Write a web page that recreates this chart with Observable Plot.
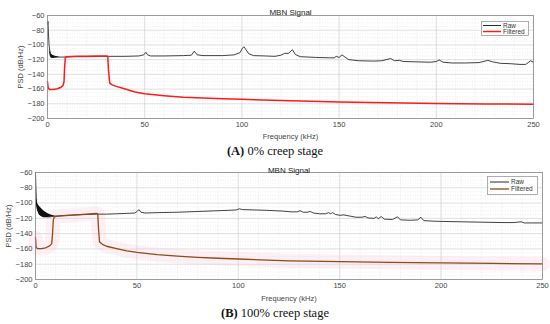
<!DOCTYPE html>
<html><head><meta charset="utf-8">
<script src="https://cdn.jsdelivr.net/npm/d3@7"></script>
<script src="https://cdn.jsdelivr.net/npm/@observablehq/plot@0.6"></script>
<style>
html,body{margin:0;padding:0;background:#fff}
body{width:550px;height:324px;overflow:hidden;font-family:"Liberation Sans",Arial,sans-serif}
.panel{position:relative;width:550px;height:162px}
.panel > svg{display:block}
.caption{position:absolute;left:0;top:140px;width:550px;height:22px;line-height:22px;text-align:center;font-family:"Liberation Serif","DejaVu Serif",serif;font-size:12.5px;color:#111}
.legend{position:absolute}
</style></head><body>
<div id="A" class="panel"></div>
<div id="B" class="panel"></div>
<script>
// ---- axes ----
const xTicks = [0, 50, 100, 150, 200, 250];
const yTicks = [-200, -180, -160, -140, -120, -100, -80, -60];
const xMinor = [10,20,30,40,60,70,80,90,110,120,130,140,160,170,180,190,210,220,230,240];
const yMinor = [-195,-190,-185,-175,-170,-165,-155,-150,-145,-135,-130,-125,-115,-110,-105,-95,-90,-85,-75,-70,-65];
const seriesNames = ["Raw", "Filtered"];
const titleText = "MBN Signal";
const xLabel = "Frequency (kHz)";
const yLabel = "PSD (dB/Hz)";

// ---- (A) 0% creep stage ----
const rawA_f  = [0,0.25,0.5,0.8,1.2,1.6,2,3,5,8,12,20,30,40,47,49.5,50.6,51.5,53,60,70,74,75.5,77,80,90,96,99,100.3,101,102,103.5,106,112,117,120,122,124,126,127.5,130,138,145,147.5,148.5,150,151.5,153,155,160,168,172,176.5,178.5,181,183,190,197,200,201.5,203.5,208,215,222,226.5,229,233,238,243,246,248.5,250];
const rawA_db = [-72,-68,-85,-100,-108,-112,-114,-115.5,-116.5,-116.5,-116,-116,-115.5,-115.5,-115,-113.5,-110,-113.5,-115,-115,-114.5,-114,-108.5,-113.5,-114.5,-114.5,-113.5,-110.5,-104.5,-102.5,-106,-112,-114.5,-115,-115.5,-114,-111.5,-111.5,-106.5,-113,-116,-117,-117.5,-117.5,-115.5,-117,-113.5,-116.5,-120,-121.5,-122,-121.5,-118.5,-121.5,-121,-122.5,-123,-123.5,-122.5,-120.5,-123.5,-124.5,-124.5,-124,-121,-123,-125,-125.5,-126.5,-126.5,-121.5,-123.5];
const bandA_f  = [1.0, 1.5, 2, 3, 4, 5, 6];
const bandA_hi = [-106, -111, -113, -114.5, -115.5, -116, -116.5];
const bandA_lo = [-110, -116, -118, -118.5, -118, -117.5, -117];
const filtA_f  = [0,0.3,1,3,5,7,8,8.5,8.8,9.2,10,15,20,25,28,30.5,31,31.4,32,33,35,40,45,50,60,70,80,90,100,125,150,175,200,225,250];
const filtA_db = [-150,-158,-160.5,-160.5,-159.5,-157.5,-155,-150,-130,-117,-116,-115.5,-115.5,-115,-115,-115,-116,-135,-152,-154,-156,-160,-164,-166.5,-169,-171,-172.3,-173.2,-174,-176,-177.5,-178.7,-179.6,-180.2,-180.6];

// ---- (B) 100% creep stage ----
const rawB_f  = [0,0.2,0.4,0.6,1,2,4,7,10,15,20,25,30,35,40,45,49,50.3,51,52,54,60,70,80,90,95,99,100.5,102,108,114,118,122,126,129,130.5,132,134,135.5,137,140,143,144.5,145.5,146.5,148,150,152,155,158,161,162.5,164,167,168,169,170.5,172,176,178.5,180,185,188.5,190,191.5,195,200,210,220,230,236,239.5,241,245,250];
const rawB_db = [-60,-80,-93,-100,-108,-115,-118,-118,-117,-116,-115.5,-115,-114.5,-114.5,-114,-113.5,-113,-110.5,-108.5,-112,-113,-112.5,-112,-111,-110,-109.5,-109,-107.5,-108.5,-109,-109.5,-110,-110.5,-111.5,-111.5,-110,-112,-112,-111,-113,-114,-114,-112.5,-114,-112.5,-115,-116,-115.5,-117,-118.5,-118.5,-117.5,-119.5,-120,-118,-120.5,-117.5,-121,-121.5,-118,-122,-122.5,-122,-118.5,-123,-123.5,-124,-124.5,-125,-125.5,-125.5,-124.5,-126,-126,-126];
const bandB_f  = [0.5, 1, 2, 3, 4, 5, 6, 7, 8, 9, 10];
const bandB_hi = [-95, -101, -104.5, -107.5, -110, -112, -113.5, -115, -116, -116.5, -116.8];
const bandB_lo = [-103, -110, -116, -118, -119, -119, -119, -118.5, -118, -117.5, -117];
const filtB_f  = [0,0.3,1,3,5,7,8,8.4,8.8,9.3,10,15,20,25,30,30.7,31.1,31.6,33,35,40,45,50,60,70,80,90,100,125,150,175,200,225,250];
const filtB_db = [-145,-158,-159.5,-159.5,-158.5,-156,-153,-140,-122,-118,-117.5,-116.5,-115.5,-114.5,-113.5,-114,-135,-151,-154,-156.5,-159.5,-162.5,-164.5,-167.5,-169.5,-171,-172.2,-173.2,-175.5,-176.6,-177.5,-178.3,-179,-179.6];

const rows = (fs, ds) => fs.map((f, i) => ({f, db: ds[i]}));
const bandRows = (fs, hi, lo) => fs.map((f, i) => ({f, hi: hi[i], lo: lo[i]}));

function chart(p) {
  const raw = rows(p.rawF, p.rawDb);
  const filt = rows(p.filtF, p.filtDb);
  const band = bandRows(p.bandF, p.bandHi, p.bandLo);
  return Plot.plot({
    width: 550, height: 140,
    marginTop: p.mt, marginBottom: p.mb, marginLeft: p.ml, marginRight: p.mr,
    style: {fontFamily: "Liberation Sans, Arial, sans-serif", fontSize: "7.5px", color: "#444", background: "#fff", overflow: "visible"},
    x: {domain: [0, 250]},
    y: {domain: [-200, -60]},
    marks: [
      p.pink ? Plot.line(filt, {x: "f", y: "db", stroke: "#fef0f5", strokeWidth: 14}) : null,
      Plot.ruleX(xMinor, {stroke: "#e2e2e2", strokeDasharray: "1,1.5", strokeWidth: 0.6}),
      Plot.ruleY(yMinor, {stroke: "#e2e2e2", strokeDasharray: "1,1.5", strokeWidth: 0.6}),
      Plot.gridX(xTicks, {stroke: "#d0d0d0", strokeOpacity: 1, strokeWidth: 0.7}),
      Plot.gridY(yTicks, {stroke: "#d0d0d0", strokeOpacity: 1, strokeWidth: 0.7}),
      Plot.areaY(band, {x: "f", y1: "lo", y2: "hi", fill: "#111"}),
      Plot.line(raw, {x: "f", y: "db", stroke: "#111", strokeWidth: 0.8}),
      Plot.line(filt, {x: "f", y: "db", stroke: p.color, strokeWidth: p.fw}),
      Plot.frame({stroke: "#8a8a8a", strokeWidth: 0.8}),
      Plot.axisX(xTicks, {tickSize: 0, tickPadding: 3, label: xLabel, labelAnchor: "center", labelOffset: p.xlo, labelArrow: "none"}),
      Plot.axisY(yTicks, {tickSize: 0, tickPadding: 3, label: yLabel, labelAnchor: "center", labelOffset: 30, labelArrow: "none"}),
      Plot.text([titleText], {text: d => d, frameAnchor: "top", dy: -p.tdy, fontSize: 8, fill: "#222"})
    ]
  });
}

function legend(box, colors, widths) {
  const ns = "http://www.w3.org/2000/svg";
  const svg = document.createElementNS(ns, "svg");
  svg.setAttribute("class", "legend");
  svg.setAttribute("width", box.w);
  svg.setAttribute("height", box.h);
  Object.assign(svg.style, {left: box.x + "px", top: box.y + "px"});
  const r = document.createElementNS(ns, "rect");
  r.setAttribute("x", 0.5); r.setAttribute("y", 0.5);
  r.setAttribute("width", box.w - 1); r.setAttribute("height", box.h - 1);
  r.setAttribute("fill", "#fff"); r.setAttribute("stroke", "#9a9a9a"); r.setAttribute("stroke-width", 0.8);
  svg.append(r);
  seriesNames.forEach((name, i) => {
    const ln = document.createElementNS(ns, "line");
    ln.setAttribute("x1", box.lx); ln.setAttribute("x2", box.lx + box.lw);
    ln.setAttribute("y1", box.rows[i]); ln.setAttribute("y2", box.rows[i]);
    ln.setAttribute("stroke", colors[i]); ln.setAttribute("stroke-width", widths[i]);
    const t = document.createElementNS(ns, "text");
    t.setAttribute("x", box.lx + box.lw + 2);
    t.setAttribute("y", box.rows[i]);
    t.setAttribute("dy", "0.35em");
    t.setAttribute("font-size", 6.5);
    t.setAttribute("font-family", "Liberation Sans, Arial, sans-serif");
    t.setAttribute("fill", "#333");
    t.textContent = name;
    svg.append(ln, t);
  });
  return svg;
}

function panel(id, p, capLetter, capText) {
  const host = document.getElementById(id);
  host.append(chart(p));
  host.append(legend(p.leg, ["#111", p.color], [0.9, p.fw]));
  const cap = document.createElement("div");
  cap.className = "caption";
  const b = document.createElement("b");
  b.textContent = capLetter;
  cap.append(b, document.createTextNode(capText));
  host.append(cap);
}

panel("A", {
  rawF: rawA_f, rawDb: rawA_db, filtF: filtA_f, filtDb: filtA_db,
  bandF: bandA_f, bandHi: bandA_hi, bandLo: bandA_lo,
  mt: 15, mb: 22, ml: 47, mr: 17, xlo: 20, tdy: 6,
  color: "#ff1a1a", fw: 1.5, pink: false,
  leg: {x: 481, y: 21, w: 48, h: 15, rows: [4.5, 10.5], lx: 2, lw: 18}
}, "(A)", " 0% creep stage");

panel("B", {
  rawF: rawB_f, rawDb: rawB_db, filtF: filtB_f, filtDb: filtB_db,
  bandF: bandB_f, bandHi: bandB_hi, bandLo: bandB_lo,
  mt: 10, mb: 23, ml: 35, mr: 8, xlo: 21, tdy: 5,
  color: "#8f4a16", fw: 1.3, pink: true,
  leg: {x: 487, y: 14, w: 51, h: 19, rows: [6, 13], lx: 3, lw: 19}
}, "(B)", " 100% creep stage");
</script>
</body></html>
